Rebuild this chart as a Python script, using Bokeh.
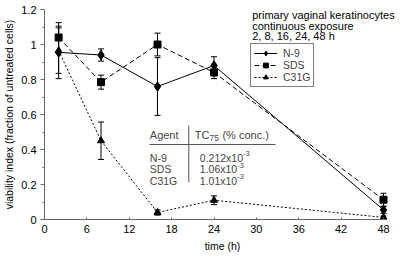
from bokeh.plotting import figure
from bokeh.models import (Range1d, FixedTicker, Whisker, ColumnDataSource, Legend,
                          LegendItem, Label, TeeHead)
from bokeh.embed import file_html
from bokeh.resources import INLINE

# ---------------- data ----------------
time_h = [2, 8, 16, 24, 48]
n9 = [0.955, 0.94, 0.76, 0.88, 0.055]
n9_err = [0.15, 0.035, 0.165, 0.05, 0.02]
sds = [1.04, 0.785, 1.0, 0.84, 0.113]
sds_err = [0.085, 0.04, 0.065, 0.035, 0.037]
c31g = [0.965, 0.45, 0.04, 0.11, 0.012]
c31g_err = [0.13, 0.107, 0.015, 0.025, 0.008]

x_ticks = [0, 6, 12, 18, 24, 30, 36, 42, 48]
y_ticks = [0, 0.2, 0.4, 0.6, 0.8, 1.0, 1.2]
y_tick_labels = ["0", "0.2", "0.4", "0.6", "0.8", "1", "1.2"]
y_minor = [0.1, 0.3, 0.5, 0.7, 0.9, 1.1]

title_lines = ["primary vaginal keratinocytes", "continuous exposure", "2, 8, 16, 24, 48 h"]
agents = ["N-9", "SDS", "C31G"]
tc75_mant = ["0.212x10", "1.06x10", "1.01x10"]
tc75_exp = ["-3", "-3", "-3"]

# ---------------- layout helpers ----------------
FONT = "Liberation Sans"
W, H = 400, 256
FL, FR, FT, FB = 44, 400, 9, 219          # frame edges in px
X48 = 383                                  # px of x=48
PXX = (X48 - FL) / 48.0
X_END = (FR - FL) / PXX
PXY = (FB - FT) / 1.2


def dx(px):
    return (px - FL) / PXX


def dy(py):
    return (FB - py) / PXY


ARIAL = {'0': .556, '1': .556, '2': .556, '3': .556, '5': .556, '6': .556, '7': .556,
         '9': .556, '.': .278, 'x': .5, '-': .333, 'T': .611, 'C': .722, ' ': .278}


def twidth(s, fs):
    return sum(ARIAL.get(c, .556) for c in s) * fs


p = figure(width=W, height=H, output_backend="svg", toolbar_location=None,
           x_range=Range1d(0, X_END), y_range=Range1d(0, 1.2),
           min_border_left=FL, min_border_right=W - FR, min_border_top=FT,
           min_border_bottom=H - FB)
p.outline_line_color = None
p.xgrid.visible = False
p.ygrid.visible = False
p.background_fill_color = "white"
p.border_fill_color = "white"

src = ColumnDataSource(dict(
    t=time_h,
    n9=n9, n9_lo=[v - e for v, e in zip(n9, n9_err)], n9_hi=[v + e for v, e in zip(n9, n9_err)],
    sds=sds, sds_lo=[v - e for v, e in zip(sds, sds_err)], sds_hi=[v + e for v, e in zip(sds, sds_err)],
    c=c31g, c_lo=[max(0, v - e) for v, e in zip(c31g, c31g_err)], c_hi=[v + e for v, e in zip(c31g, c31g_err)],
))

for key in ["n9", "sds", "c"]:
    w = Whisker(base="t", lower=key + "_lo", upper=key + "_hi", source=src,
                line_color="black", line_width=1,
                upper_head=TeeHead(size=6, line_color="black", line_width=1),
                lower_head=TeeHead(size=6, line_color="black", line_width=1))
    p.add_layout(w)

l1 = p.line("t", "n9", source=src, line_color="black", line_width=1)
l2 = p.line("t", "sds", source=src, line_color="black", line_width=1, line_dash="5 3")
l3 = p.line("t", "c", source=src, line_color="black", line_width=1, line_dash="2 2")
s1 = p.scatter("t", "n9", source=src, marker="diamond", size=9.5, color="black")
s2 = p.scatter("t", "sds", source=src, marker="square", size=7, color="black")
s3 = p.scatter("t", "c", source=src, marker="triangle", size=7, color="black")

# axes
xa = p.xaxis[0]
ya = p.yaxis[0]
xa.ticker = FixedTicker(ticks=x_ticks)
xa.bounds = (0, 48)
ya.ticker = FixedTicker(ticks=y_ticks, minor_ticks=y_minor)
ya.major_label_overrides = {t: l for t, l in zip(y_ticks, y_tick_labels)}
for ax in (xa, ya):
    ax.axis_line_color = "#666666"
    ax.major_tick_line_color = "#666666"
    ax.minor_tick_line_color = "#666666"
    ax.major_label_text_font = FONT
    ax.major_label_text_font_size = "11px"
    ax.major_label_text_color = "black"
    ax.axis_label_text_font = FONT
    ax.axis_label_text_font_style = "normal"
    ax.axis_label_text_color = "black"
xa.major_tick_in = 2
xa.major_tick_out = 0
xa.minor_tick_in = 0
xa.minor_tick_out = 0
xa.major_label_standoff = 5
xa.axis_label = "time (h)"
xa.axis_label_text_font_size = "10.5px"
xa.axis_label_standoff = 4
ya.major_tick_in = 0
ya.major_tick_out = 4
ya.minor_tick_in = 0
ya.minor_tick_out = 2
ya.major_label_standoff = 4
ya.axis_label = "viability index (fraction of untreated cells)"
ya.axis_label_text_font_size = "10.5px"
ya.axis_label_standoff = 3

# legend
legend = Legend(items=[LegendItem(label="N-9", renderers=[l1, s1]),
                       LegendItem(label="SDS", renderers=[l2, s2]),
                       LegendItem(label="C31G", renderers=[l3, s3])],
                location=(250 - FL, FB - 87), orientation="vertical")
legend.label_text_font = FONT
legend.label_text_font_size = "10.5px"
legend.label_height = 12
legend.glyph_height = 12
legend.glyph_width = 23
legend.label_standoff = 6
legend.padding = 3
legend.spacing = 0
legend.margin = 0
legend.border_line_color = "black"
legend.border_line_width = 1
legend.background_fill_alpha = 1
p.add_layout(legend)

# title block
for i, (txt, py) in enumerate(zip(title_lines, [14, 25, 35.5])):
    p.add_layout(Label(x=dx(251.7), y=dy(py), text=txt, text_font=FONT, text_font_size="11px",
                       text_baseline="middle", text_align="left", text_color="black"))

# table inset
HFS = 11
RFS = 10.5
p.add_layout(Label(x=dx(149.3), y=dy(134), text="Agent", text_font=FONT, text_font_size=f"{HFS}px",
                   text_baseline="middle"))
tc_x = 194.3
p.add_layout(Label(x=dx(tc_x), y=dy(134), text="TC", text_font=FONT, text_font_size=f"{HFS}px",
                   text_baseline="middle"))
sub_x = tc_x + twidth("TC", HFS)
p.add_layout(Label(x=dx(sub_x), y=dy(137.5), text="75", text_font=FONT, text_font_size="8.5px",
                   text_baseline="middle"))
p.add_layout(Label(x=dx(sub_x + twidth("75", 8.5) + 3.5), y=dy(134), text="(% conc.)", text_font=FONT,
                   text_font_size=f"{HFS}px", text_baseline="middle"))
p.segment(x0=[dx(149), dx(188.3)], y0=[dy(144), dy(125)], x1=[dx(275), dx(188.3)], y1=[dy(144), dy(181.7)],
          line_color="#555555", line_width=1)
row_y = [157, 168.5, 180]
for a, m, e, py in zip(agents, tc75_mant, tc75_exp, row_y):
    p.add_layout(Label(x=dx(149.3), y=dy(py), text=a, text_font=FONT, text_font_size=f"{RFS}px",
                       text_baseline="middle"))
    p.add_layout(Label(x=dx(199.3), y=dy(py), text=m, text_font=FONT, text_font_size=f"{RFS}px",
                       text_baseline="middle"))
    p.add_layout(Label(x=dx(199.3 + twidth(m, RFS)), y=dy(py - 4), text=e, text_font=FONT,
                       text_font_size="7.5px", text_baseline="middle"))

open("out.html", "w").write(file_html(p, INLINE))
